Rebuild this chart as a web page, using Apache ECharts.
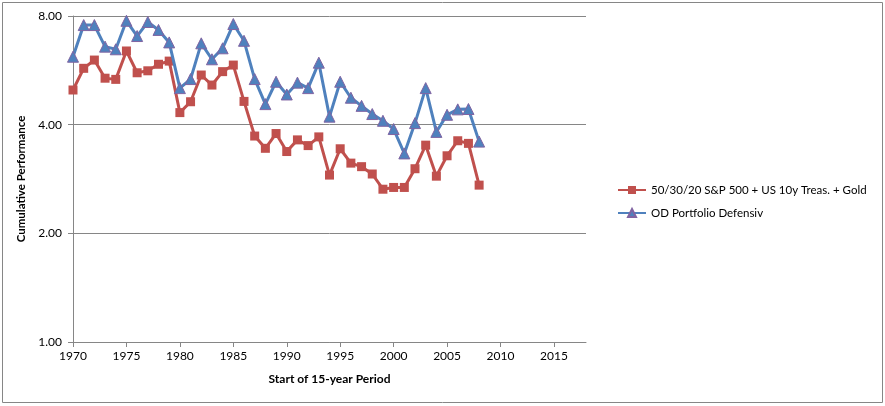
<!DOCTYPE html>
<html>
<head>
<meta charset="utf-8">
<script src="https://cdn.jsdelivr.net/npm/echarts@6/dist/echarts.min.js"></script>
<style>
html,body{margin:0;padding:0;background:#fff;}
#c{width:885px;height:406px;}
</style>
</head>
<body>
<div id="c"></div>
<script>
var years = [1970,1971,1972,1973,1974,1975,1976,1977,1978,1979,1980,1981,1982,1983,1984,1985,1986,1987,1988,1989,1990,1991,1992,1993,1994,1995,1996,1997,1998,1999,2000,2001,2002,2003,2004,2005,2006,2007,2008];
var mix503020 = [4.99,5.73,6.04,5.38,5.34,6.40,5.57,5.64,5.88,6.00,4.32,4.63,5.49,5.15,5.61,5.85,4.64,3.72,3.44,3.78,3.37,3.63,3.50,3.70,2.90,3.43,3.13,3.06,2.92,2.65,2.68,2.68,3.02,3.51,2.88,3.28,3.61,3.55,2.72];
var odDefensiv = [6.17,7.55,7.55,6.58,6.47,7.76,7.04,7.70,7.32,6.76,5.05,5.35,6.72,6.07,6.51,7.60,6.83,5.35,4.56,5.26,4.85,5.23,5.05,5.94,4.21,5.26,4.75,4.51,4.28,4.10,3.89,3.33,4.04,5.05,3.82,4.26,4.41,4.42,3.59];
var seriesNames = ['50/30/20 S&P 500 + US 10y Treas. + Gold','OD Portfolio Defensiv'];
var xTitle = 'Start of 15-year Period';
var yTitle = 'Cumulative Performance';

function pairs(vals){ return years.map(function(y,i){ return [y, vals[i]]; }); }

var font = 'Lato, "Open Sans", sans-serif';
var chart = echarts.init(document.getElementById('c'));
chart.setOption({
  animation:false,
  backgroundColor:'#fff',
  textStyle:{fontFamily:font},
  graphic:[{type:'rect', shape:{x:2.5,y:2.5,width:880,height:400}, style:{fill:'none',stroke:'#868686',lineWidth:1}, silent:true}],
  grid:{left:73, right:299, top:16, bottom:64, containLabel:false},
  legend:{
    orient:'vertical', left:617, top:184, padding:0, itemWidth:28, itemHeight:10, itemGap:11,
    textStyle:{fontFamily:font, fontSize:11.5, color:'#000'},
    data:seriesNames
  },
  xAxis:{
    type:'value', min:1970, max:2018, interval:5,
    name:xTitle, nameLocation:'middle', nameGap:31,
    nameTextStyle:{fontFamily:font, fontWeight:'bold', fontSize:12, color:'#000'},
    axisLine:{lineStyle:{color:'#868686'}},
    axisTick:{length:5, lineStyle:{color:'#868686'}},
    axisLabel:{color:'#000', fontSize:12, margin:8, showMaxLabel:false, fontFamily:font, formatter:function(v){return String(v);}},
    splitLine:{show:false}
  },
  yAxis:{
    type:'log', logBase:2, min:1, max:8,
    name:yTitle, nameLocation:'middle', nameGap:45, nameRotate:90,
    nameTextStyle:{fontFamily:font, fontWeight:'bold', fontSize:11.5, color:'#000'},
    axisLine:{show:true, lineStyle:{color:'#868686'}},
    axisTick:{show:true, length:5, lineStyle:{color:'#868686'}},
    axisLabel:{color:'#000', fontSize:12, margin:11, fontFamily:font, formatter:function(v){return Number(v).toFixed(2);}},
    splitLine:{show:true, lineStyle:{color:'#868686', width:1}}
  },
  series:[
    {name:seriesNames[0], type:'line', data:pairs(mix503020), symbol:'rect', symbolSize:9,
     lineStyle:{color:'#C0504D', width:3}, itemStyle:{color:'#C0504D', borderColor:'#C0504D', borderWidth:0}, z:2},
    {name:seriesNames[1], type:'line', data:pairs(odDefensiv), symbol:'triangle', symbolSize:11,
     lineStyle:{color:'#4F81BD', width:3}, itemStyle:{color:'#4F81BD', borderColor:'#8064A2', borderWidth:1}, z:3}
  ]
});
</script>
</body>
</html>
